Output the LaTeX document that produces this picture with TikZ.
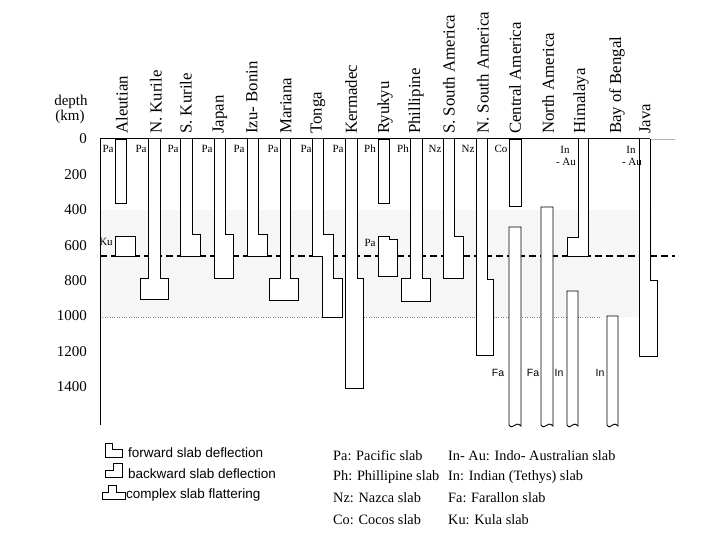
\documentclass[tikz,border=0pt]{standalone}
\usepackage{fontspec}
\setmainfont{Liberation Serif}
\newfontfamily\legsans{Liberation Sans}
\usetikzlibrary{calc}

\tikzset{
  slab/.style={draw,fill=white,line width=0.9pt,line join=miter},
  region/.style={rotate=90,anchor=west,inner sep=0pt,font=\fontsize{16.8}{17}\selectfont},
  plate/.style={inner sep=0pt,font=\fontsize{11}{11}\selectfont},
  platesans/.style={inner sep=0pt,font=\legsans\fontsize{10.5}{11}\selectfont},
  depthlbl/.style={anchor=east,inner sep=0pt,font=\fontsize{15}{15}\selectfont},
  legtext/.style={anchor=west,inner sep=0pt,font=\legsans\fontsize{13.5}{14}\selectfont},
  keytext/.style={anchor=west,inner sep=0pt,font=\fontsize{14.3}{15}\selectfont},
  keybox/.style={draw,line width=0.8pt},
}

\begin{document}
\begin{tikzpicture}[x=1pt,y=-1pt]
    \useasboundingbox (0,0) rectangle (720,540);
    % mantle transition band
    \fill[gray!7] (100,210) rectangle (652,317);
    \draw[gray,dotted] (100,317) -- (600,317);
    \draw[line width=1.3pt,dash pattern=on 7pt off 4pt] (100,256) -- (675,256);
    % axes
    \draw[line width=1pt] (100,139) -- (650,139);
    \draw[gray!60,line width=0.8pt] (650,139) -- (675,139);
    \draw[line width=0.9pt] (100,139) -- (100,425);
    \node[font=\fontsize{15}{15}\selectfont,inner sep=0pt] (depth) at (71,102) {depth};
    \node[font=\fontsize{15}{15}\selectfont,inner sep=0pt] (km) at (70,117) {(km)};
    \foreach \d [count=\i] in {0,200,...,1400}
      \node[depthlbl] (d\i) at (87,{139+0.177*\d}) {\d};
    % subduction zones
    \foreach \x/\t [count=\i] in {122/Aleutian,156/N. Kurile,186/S. Kurile,220/Japan,252/Izu- Bonin,286/Mariana,318/Tonga,351/Kermadec,385/Ryukyu,416/Phillipine,449/S. South America,483/N. South America,515/Central America,548/North America,581/Himalaya,617/Bay of Bengal,645/Java}
      \node[region] (reg\i) at (\x,134) {\t};
    % slabs
    \draw[slab] (115,139) rectangle (126,203);
    \draw[slab] (115,236) rectangle (135,256);
    \draw[slab] (148,139) -- (148,278) -- (140,278) -- (140,299) -- (168,299) -- (168,278) -- (160,278) -- (160,139);
    \draw[slab] (180,139) -- (180,256) -- (200,256) -- (200,234) -- (192,234) -- (192,139);
    \draw[slab] (214,139) -- (214,278) -- (233,278) -- (233,234) -- (225,234) -- (225,139);
    \draw[slab] (247,139) -- (247,256) -- (267,256) -- (267,234) -- (258,234) -- (258,139);
    \draw[slab] (280,139) -- (280,278) -- (269,278) -- (269,300) -- (298,300) -- (298,278) -- (290,278) -- (290,139);
    \draw[slab] (312,139) -- (312,256) -- (322,256) -- (322,317) -- (342,317) -- (342,278) -- (333,278) -- (333,234) -- (323,234) -- (323,139);
    \draw[slab] (345,139) -- (345,388) -- (363,388) -- (363,278) -- (357,278) -- (357,139);
    \draw[slab] (378,139) rectangle (389,203);
    \draw[slab] (378,236) -- (389,236) -- (389,239) -- (397,239) -- (397,276) -- (378,276) -- cycle;
    \draw[slab] (410,139) -- (410,278) -- (401,278) -- (401,301) -- (430,301) -- (430,278) -- (422,278) -- (422,139);
    \draw[slab] (443,139) -- (443,278) -- (463,278) -- (463,236) -- (454,236) -- (454,139);
    \draw[slab] (476,139) -- (476,355) -- (493,355) -- (493,279) -- (487,279) -- (487,139);
    \draw[slab] (509,139) rectangle (521,206);
    \draw[slab] (578,139) -- (578,237) -- (567,237) -- (567,256) -- (588,256) -- (588,139);
    \draw[slab] (639,139) -- (639,356) -- (657,356) -- (657,280) -- (650,280) -- (650,139);
    \foreach \xl/\xr/\yt in {509/521/227,541/553/207,567/578/291,607/618/316}
      \draw[slab] (\xl,\yt) -- (\xl,425) .. controls (\xl+4,431) and (\xr-6,420) .. (\xr,426) -- (\xr,\yt) -- cycle;
    % slab names
    \foreach \x/\t [count=\i] in {108/Pa,141/Pa,173/Pa,207/Pa,239/Pa,273/Pa,306/Pa,338/Pa,370/Ph,403/Ph,435/Nz,468/Nz,501/Co}
      \node[plate] (pl\i) at (\x,149) {\t};
    \node[plate] (ku) at (106,242) {Ku};
    \node[plate] (paryu) at (370,243) {Pa};
    \node[plate] (inhim) at (565,150) {In};
    \node[plate] (auhim) at (566,162) {- Au};
    \node[plate] (inbob) at (631,150) {In};
    \node[plate] (aubob) at (632,162) {- Au};
    \node[platesans] (fa1) at (498,373) {Fa};
    \node[platesans] (fa2) at (533,373) {Fa};
    \node[platesans] (in1) at (559,373) {In};
    \node[platesans] (in2) at (600,373) {In};
    % legend
    \draw[keybox] (105,443) -- (112,443) -- (112,449) -- (122,449) -- (122,457) -- (105,457) -- cycle;
    \draw[keybox] (113,463) -- (122,463) -- (122,477) -- (105,477) -- (105,470) -- (113,470) -- cycle;
    \draw[keybox] (108,485) -- (116,485) -- (116,492) -- (125,492) -- (125,499) -- (102,499) -- (102,492) -- (108,492) -- cycle;
    \node[legtext] (fwd) at (128,453) {forward slab deflection};
    \node[legtext] (bwd) at (128,474) {backward slab deflection};
    \node[legtext] (cpx) at (126,495) {complex slab flattering};
    \node[keytext] (kpa) at (333,456) {Pa: Pacific slab};
    \node[keytext] (kph) at (333,477) {Ph: Phillipine slab};
    \node[keytext] (knz) at (333,498) {Nz: Nazca slab};
    \node[keytext] (kco) at (333,520) {Co: Cocos slab};
    \node[keytext] (kinau) at (448,456) {In- Au: Indo- Australian slab};
    \node[keytext] (kin) at (448,477) {In: Indian (Tethys) slab};
    \node[keytext] (kfa) at (448,498) {Fa: Farallon slab};
    \node[keytext] (kku) at (448,520) {Ku: Kula slab};
\end{tikzpicture}
\end{document}
